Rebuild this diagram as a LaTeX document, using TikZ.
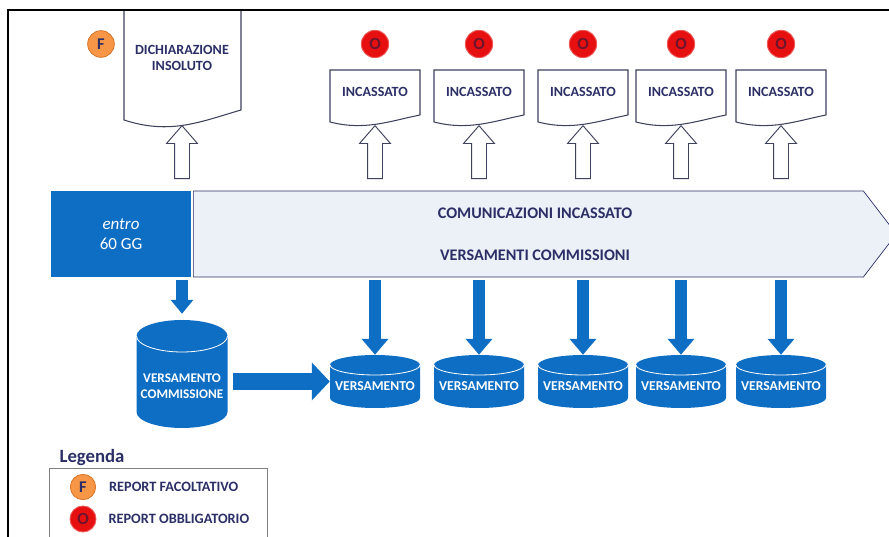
\documentclass[tikz,border=0pt]{standalone}
\usepackage{fontspec}
\setmainfont{Carlito}
\usetikzlibrary{arrows.meta,shapes.arrows,shapes.symbols,positioning}

\definecolor{dbblue}{RGB}{14,110,196}
\definecolor{navy}{RGB}{43,47,102}
\definecolor{docline}{RGB}{62,66,92}
\definecolor{barfill}{RGB}{236,240,247}
\definecolor{optorange}{RGB}{247,150,70}
\definecolor{opttrim}{RGB}{214,110,30}
\definecolor{mandred}{RGB}{230,16,16}
\definecolor{mandtext}{RGB}{110,20,45}

\newcommand{\dbshape}[5]{%
  \fill[dbblue] (#1-#4,#2-#5) -- (#1-#4,#3+#5)
    arc[start angle=180, end angle=360, x radius=#4, y radius=#5]
    -- (#1+#4,#2-#5)
    arc[start angle=0, end angle=180, x radius=#4, y radius=#5] -- cycle;
  \draw[white, line width=0.7pt] (#1-#4,#2-#5)
    arc[start angle=180, end angle=360, x radius=#4, y radius=#5];
}

\tikzset{
  doclabel/.style={font=\bfseries\fontsize{12}{14}\selectfont, text=navy, align=center},
  docpath/.style={draw=docline, line width=0.9pt, fill=white},
  hollowup/.style={single arrow, rotate=90, draw=docline, fill=white, line width=0.8pt,
    minimum height=1.59cm, minimum width=0.9cm, single arrow head extend=0.24cm,
    single arrow tip angle=82, inner xsep=0pt, inner ysep=0.21cm},
  daybox/.style={fill=dbblue, text=white, align=center, minimum width=4.2cm,
    minimum height=2.58cm, font=\fontsize{14.5}{17}\selectfont},
  bar/.style={signal, signal to=east, signal pointer angle=105, draw=navy, line width=0.6pt,
    fill=barfill, minimum width=21.09cm, minimum height=2.58cm, anchor=west,
    align=center, text=navy, font=\bfseries\fontsize{13.8}{16}\selectfont},
  dbnode/.style={minimum width=2.7cm, minimum height=1.59cm, text height=16pt, text depth=0pt,
    text=white, font=\bfseries\fontsize{11.6}{13}\selectfont},
  dbtext/.style={text=white, align=center, font=\bfseries\fontsize{11.3}{14}\selectfont},
  bluedown/.style={draw=dbblue, line width=0.36cm, -{Triangle[length=0.48cm, width=0.78cm]}},
  blueright/.style={draw=dbblue, line width=0.51cm, -{Triangle[length=0.54cm, width=1.11cm]}},
  fbadge/.style={circle, fill=optorange, draw=opttrim, line width=0.6pt, minimum size=0.8cm,
    inner sep=0pt, text=navy, font=\bfseries\fontsize{14}{14}\selectfont},
  obadge/.style={circle, fill=mandred, draw=mandred!70!white, line width=0.8pt, minimum size=0.82cm,
    inner sep=0pt, text=mandtext, font=\bfseries\fontsize{14.5}{14.5}\selectfont},
  legtext/.style={text=navy, font=\bfseries\fontsize{12.2}{14}\selectfont},
  frameline/.style={line width=2.2pt, black}
}

\begin{document}
\begin{tikzpicture}[x=0.03cm, y=0.03cm]
\useasboundingbox (0,0) rectangle (889,537);

% dichiarazione insoluto
\draw[docpath] (124,527) -- (241,527) -- (241,427) .. controls (200,415) and (170,402) .. (124,417) -- cycle;
\node[doclabel] (dich) at (182,479) {DICHIARAZIONE\\INSOLUTO};
\node[fbadge] (f0) at (101,493) {F};
\node[hollowup] (up0) at (182,380.5) {};

% entro 60 gg + freccia
\node[daybox] (days) at (121,303) {\textit{entro}\\60 GG};
\node[bar] (bar) at (193,303) {\hspace*{0.4cm}COMUNICAZIONI INCASSATO\\[20pt]\hspace*{0.4cm}VERSAMENTI COMMISSIONI};

% versamento commissione
\dbshape{182}{217}{109}{45.5}{16}
\node[dbnode, minimum width=2.73cm, minimum height=3.24cm,
  label={[dbtext, yshift=-0.375cm]center:{VERSAMENTO\\COMMISSIONE}}] (vc) at (182,163) {};
\draw[bluedown, line width=0.36cm, -{Triangle[length=0.42cm, width=0.66cm]}, shorten <=0.09cm, shorten >=0.18cm]
  (days.south -| vc) -- (vc.north);

% colonne incassato / versamento
\foreach \i/\x in {1/375,2/479,3/583,4/681,5/781} {
  \node[obadge] (o\i) at (\x,493) {O};
  \draw[docpath] (\x-45,467) -- (\x+45,467) -- (\x+45,422)
    .. controls (\x+15,416) and (\x-10,406) .. (\x-45,415) -- cycle;
  \node[doclabel] (inc\i) at (\x,445) {INCASSATO};
  \node[hollowup] (up\i) at (\x,380.5) {};
  \dbshape{\x}{182}{129}{45}{10}
  \node[dbnode] (vol\i) at (\x,155.5) {VERSAMENTO};
  \draw[bluedown, shorten <=0.09cm] (bar.south -| vol\i) -- (vol\i.north);
}
\draw[blueright, shorten <=0.17cm] (vc.east |- vol1) -- (vol1.west);

% legenda
\node[text=navy, font=\bfseries\fontsize{16}{18}\selectfont] (leg) at (92,79) {Legenda};
\draw[gray, line width=0.8pt] (49,-5) rectangle (267,69);
\node[fbadge, minimum size=0.76cm] (lf) at (83,50) {F};
\node[legtext, right=0.27cm of lf] (lft) {REPORT FACOLTATIVO};
\node[obadge, minimum size=0.78cm] (lo) at (83,18) {O};
\node[legtext, right=0.24cm of lo] (lot) {REPORT OBBLIGATORIO};

% cornice
\draw[frameline] (8,0) -- (8,527) -- (889,527);
\end{tikzpicture}
\end{document}
